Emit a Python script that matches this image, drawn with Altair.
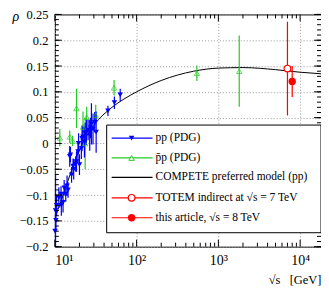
import altair as alt
import pandas as pd

# ---------------- data ----------------
pp_sqrt_s = [10.05, 10.2, 10.3, 10.5, 11.2, 11.9, 12.0, 12.6, 13.0, 13.6, 14.1, 14.5,
             15.2, 15.5, 16.0, 16.7, 17.0, 18.0, 18.4, 19.2, 19.5, 20.0, 21.1, 21.5,
             22.0, 23.0, 23.5, 24.3, 25.5, 26.7, 27.4, 28.0, 29.3, 30.7, 32.0,
             44.6, 53.5, 63.0]
pp_rho = [-0.17, -0.13, -0.149, -0.12, -0.105, -0.098, -0.12, -0.114, -0.086, -0.098, -0.082, -0.09,
          -0.025, -0.022, -0.061, -0.044, -0.05, -0.04, -0.035, -0.016, 0.0, -0.041, -0.01, 0.01,
          0.013, 0.003, 0.02, 0.022, 0.026, 0.016, 0.03, 0.038, 0.028, 0.041, 0.022,
          0.063, 0.079, 0.094]
pp_err = [0.03, 0.07, 0.02, 0.02, 0.02, 0.015, 0.02, 0.02, 0.015, 0.015, 0.02, 0.015,
          0.02, 0.015, 0.015, 0.015, 0.02, 0.015, 0.02, 0.02, 0.02, 0.02, 0.02, 0.025,
          0.02, 0.03, 0.02, 0.025, 0.02, 0.03, 0.02, 0.04, 0.03, 0.02, 0.04,
          0.01, 0.012, 0.012]

pbp_sqrt_s = [11.5, 15.2, 16.5, 18.4, 22.1, 23.5, 24.5, 31.6, 53.0, 546.0, 1800.0]
pbp_rho = [0.011, 0.013, 0.005, 0.068, 0.032, 0.0, 0.051, 0.055, 0.108, 0.136, 0.140]
pbp_err = [0.017, 0.012, 0.01, 0.038, 0.03, 0.05, 0.02, 0.02, 0.015, 0.015, 0.069]

totem7_sqrt_s = [7000.0]
totem7_rho = [0.145]
totem7_err = [0.091]

this_sqrt_s = [8000.0]
this_rho = [0.12]
this_err = [0.03]

compete_sqrt_s = [10, 12, 15, 20, 30, 50, 70, 100, 200, 500, 1000, 2000, 5000, 10000, 18000]
compete_rho = [-0.145, -0.11, -0.065, -0.012, 0.035, 0.07, 0.086, 0.10, 0.122, 0.140, 0.146,
               0.147, 0.143, 0.138, 0.135]

x_major = [10, 100, 1000, 10000]
x_minor = [m * d for d in [10, 100, 1000, 10000] for m in range(2, 10) if m * d < 18000]
y_major = [-0.2, -0.15, -0.1, -0.05, 0, 0.05, 0.1, 0.15, 0.2, 0.25]
y_minor = [round(-0.2 + 0.01 * i, 2) for i in range(46)]

legend_labels = ["pp (PDG)", "p\u0304p (PDG)", "COMPETE preferred model (pp)",
                 "TOTEM indirect at \u221as = 7 TeV", "this article, \u221as = 8 TeV"]

# ---------------- layout ----------------
W, H = 267, 233
TOP = 6
FONT = "Liberation Serif, Times New Roman, serif"
BLUE, GREEN, RED = "#0000ff", "#22cc22", "#ff0000"

xs = alt.Scale(type="log", domain=[10, 18000], nice=False)
ys = alt.Scale(domain=[-0.2, 0.25], nice=False, zero=False)

label_expr = ("datum.value == 10 ? '10\u00b9' : datum.value == 100 ? '10\u00b2' : "
              "datum.value == 1000 ? '10\u00b3' : '10\u2074'")

AX = alt.Axis(
    values=x_major, labelExpr=label_expr, tickSize=0, domain=False,
    grid=True, gridDash=[1, 2], gridColor="#999999", labelPadding=7,
    labelFont=FONT, labelFontSize=14, labelColor="black",
    title="\u221as\u00a0\u00a0\u00a0[GeV]", titleX=W, titleY=37,
    titleAlign="right", titleBaseline="alphabetic", titleFontWeight="normal",
    titleFont=FONT, titleFontSize=12.5, titleColor="black")
AY = alt.Axis(
    values=y_major, format="~g", tickSize=0, domain=False,
    grid=True, gridDash=[1, 2], gridColor="#999999", labelPadding=7,
    labelFont=FONT, labelFontSize=12.5, labelColor="black",
    title="\u03c1", titleAngle=0, titleX=-43, titleY=2,
    titleAlign="left", titleBaseline="middle", titleFontStyle="italic",
    titleFont=FONT, titleFontWeight="normal", titleFontSize=14, titleColor="black")


def df(s, r, e=None):
    d = pd.DataFrame({"s": s, "rho": r})
    if e is not None:
        d["lo"] = [a - b for a, b in zip(r, e)]
        d["hi"] = [a + b for a, b in zip(r, e)]
    return d


def X(f="s"):
    return alt.X(f"{f}:Q", scale=xs, axis=AX)


def Y(f="rho"):
    return alt.Y(f"{f}:Q", scale=ys, axis=AY)


curve = alt.Chart(df(compete_sqrt_s, compete_rho)).mark_line(
    color="black", strokeWidth=1, interpolate="monotone", clip=True
).encode(x=X(), y=Y())

pp = df(pp_sqrt_s, pp_rho, pp_err)
pbp = df(pbp_sqrt_s, pbp_rho, pbp_err)
t7 = df(totem7_sqrt_s, totem7_rho, totem7_err)
t8 = df(this_sqrt_s, this_rho, this_err)

layers = [curve]
for d, c in [(pbp, GREEN), (pp, BLUE), (t7, RED), (t8, RED)]:
    layers.append(alt.Chart(d).mark_rule(color=c, strokeWidth=1.2, clip=True).encode(
        x=X(), y=Y("lo"), y2="hi:Q"))

layers.append(alt.Chart(pbp).mark_point(shape="triangle-up", filled=False, color=GREEN,
                                        strokeWidth=1, size=30).encode(x=X(), y=Y()))
layers.append(alt.Chart(pp).mark_point(shape="triangle-down", filled=True, color=BLUE,
                                       opacity=1, size=30).encode(x=X(), y=Y()))
layers.append(alt.Chart(t7).mark_point(shape="circle", filled=True, fill="white", stroke=RED,
                                       strokeWidth=1.2, opacity=1, size=45).encode(x=X(), y=Y()))
layers.append(alt.Chart(t8).mark_point(shape="circle", filled=True, color=RED,
                                       opacity=1, size=55).encode(x=X(), y=Y()))

# inward ticks on all four sides
ymaj = pd.DataFrame({"v": y_major})
ymin = pd.DataFrame({"v": y_minor})
xmaj = pd.DataFrame({"v": x_major})
xmin = pd.DataFrame({"v": x_minor})
for d, L in [(ymaj, 7), (ymin, 4)]:
    layers.append(alt.Chart(d).mark_rule(color="black", strokeWidth=1).encode(
        y=Y("v"), x=alt.value(0), x2=alt.value(L)))
    layers.append(alt.Chart(d).mark_rule(color="black", strokeWidth=1).encode(
        y=Y("v"), x=alt.value(W), x2=alt.value(W - L)))
for d, L in [(xmaj, 7), (xmin, 4)]:
    layers.append(alt.Chart(d).mark_rule(color="black", strokeWidth=1).encode(
        x=X("v"), y=alt.value(0), y2=alt.value(L)))
    layers.append(alt.Chart(d).mark_rule(color="black", strokeWidth=1).encode(
        x=X("v"), y=alt.value(H), y2=alt.value(H - L)))

# legend (pixel offsets relative to the plot area)
dy = 10 - (8 + TOP)
LX0, LX1, LY0, LY1 = 52, W, 115 + dy, 223 + dy
one = pd.DataFrame({"a": [0]})
layers.append(alt.Chart(one).mark_rect(
    fill="white", stroke="black", strokeWidth=1).encode(
    x=alt.value(LX0), x2=alt.value(LX1), y=alt.value(LY0), y2=alt.value(LY1)))

rows_y = [128 + dy, 148 + dy, 167.5 + dy, 188 + dy, 208 + dy]
row_colors = [BLUE, GREEN, "black", RED, RED]
for i, (lab, ry, col) in enumerate(zip(legend_labels, rows_y, row_colors)):
    layers.append(alt.Chart(one).mark_rule(color=col, strokeWidth=1.2).encode(
        x=alt.value(57), x2=alt.value(98), y=alt.value(ry)))
    if i == 0:
        layers.append(alt.Chart(one).mark_point(shape="triangle-down", filled=True, color=BLUE,
                                                opacity=1, size=30).encode(x=alt.value(77), y=alt.value(ry)))
    elif i == 1:
        layers.append(alt.Chart(one).mark_point(shape="triangle-up", filled=True, fill="white",
                                                stroke=GREEN, strokeWidth=1, opacity=1, size=30).encode(
            x=alt.value(77), y=alt.value(ry)))
    elif i == 3:
        layers.append(alt.Chart(one).mark_point(shape="circle", filled=True, fill="white",
                                                stroke=RED, strokeWidth=1.2, opacity=1, size=45).encode(
            x=alt.value(77), y=alt.value(ry)))
    elif i == 4:
        layers.append(alt.Chart(one).mark_point(shape="circle", filled=True, color=RED,
                                                opacity=1, size=55).encode(x=alt.value(77), y=alt.value(ry)))
    layers.append(alt.Chart(one).mark_text(align="left", baseline="middle", font=FONT,
                                           fontSize=11.5, color="black").encode(
        x=alt.value(101), y=alt.value(ry), text=alt.value(lab)))

chart = alt.layer(*layers).properties(
    width=W, height=H,
    autosize=alt.AutoSizeParams(type="none"),
    padding={"left": 47, "top": TOP, "right": 0, "bottom": 40},
).configure_view(stroke="black", strokeWidth=1).configure_axis(
    labelFont=FONT, titleFont=FONT
).configure_text(font=FONT)

chart.save("out.html", embed_options={"renderer": "svg", "actions": False})
